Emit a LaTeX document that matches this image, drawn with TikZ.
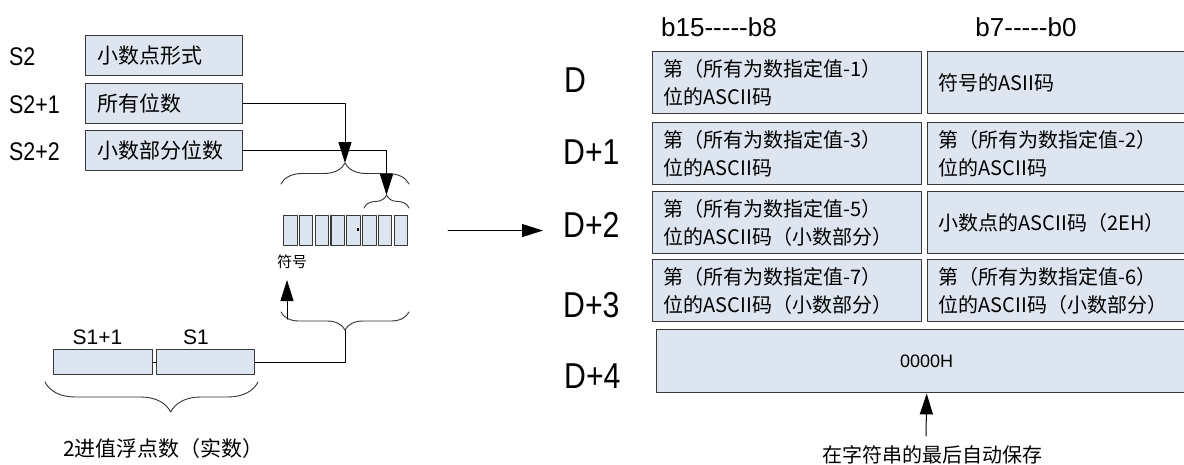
\documentclass[tikz,border=0pt]{standalone}
\usepackage{fontspec}
\setmainfont{Liberation Sans}
\newfontfamily\cjk{Noto Sans CJK SC}
\newfontfamily\narrowsf[FakeStretch=0.84]{Liberation Sans}
\usetikzlibrary{arrows.meta,decorations.pathreplacing}
\definecolor{cellfill}{RGB}{221,229,241}
\definecolor{cellline}{RGB}{56,56,56}

\begin{document}
\begin{tikzpicture}[x=1pt,y=-1pt,line join=round,line cap=round,
	>={Triangle[length=21pt,width=13pt]},
	cell/.style={draw=cellline,fill=cellfill,line width=1.4pt,inner sep=0pt,anchor=north west},
	srcbox/.style={cell,minimum width=157pt,minimum height=40pt,text width=133pt,align=left,font=\cjk\fontsize{21}{25}\selectfont},
	membox/.style={cell,minimum width=269pt,minimum height=62pt,text width=247pt,align=left,font=\cjk\fontsize{20}{27.5}\selectfont},
	bitbox/.style={cell,line width=1.1pt,minimum width=13.5pt,minimum height=30pt},
	wordbox/.style={cell,minimum height=25pt},
	reglbl/.style={inner sep=0pt,anchor=west,font=\narrowsf\fontsize{25.5}{25.5}\selectfont},
	rowlbl/.style={inner sep=0pt,anchor=west,font=\narrowsf\fontsize{36}{36}\selectfont},
	bitlbl/.style={inner sep=0pt,font=\fontsize{26}{26}\selectfont},
	note/.style={inner sep=0pt,font=\cjk\fontsize{20}{20}\selectfont},
	brace/.style={decorate,line width=0.9pt,draw=black!80},
	link/.style={line width=1pt}]
	\useasboundingbox (0,0) rectangle (1184,464);
	\def\bitstep{15.8} % Abstand der Bitzellen
	\def\dashes{{-}{-}{-}{-}{-}}
	% S2 ... S2+2
	\node[reglbl] (s2) at (9,57) {S2};
	\node[reglbl] (s2a) at (9,105) {S2+1};
	\node[reglbl] (s2b) at (9,152) {S2+2};
	\node[srcbox] (fmt) at (85,35) {小数点形式};
	\node[srcbox] (alld) at (85,83) {所有位数};
	\node[srcbox] (fracd) at (85,130) {小数部分位数};
	% Zeichenkette
	\foreach \i in {0,...,7}
		\node[bitbox] (bit\i) at ({283+\bitstep*\i},215) {};
	\fill ([xshift=3pt]bit4.center) rectangle +(2.6pt,2.6pt);
	\draw[brace,decoration={brace,amplitude=21pt}] (281,184) -- (409,184);
	\draw[brace,decoration={brace,amplitude=13pt}] (364,208) -- (409,208);
	\coordinate (allt) at (345,163);
	\coordinate (fract) at (386.5,195);
	\draw[link,->] (alld.east) -| (allt);
	\draw[link,->] (fracd.east) -| (fract);
	\node[inner sep=0pt,font=\cjk\fontsize{15}{15}\selectfont] (sign) at (292,262) {符号};
	\draw[brace,decoration={brace,mirror,amplitude=18pt}] (281,312) -- (409,312);
	\coordinate (signt) at (345,330);
	\coordinate (signb) at (287,319);
	\coordinate (signtip) at (287,280);
	\draw[link,->] (signb) -- (signtip);
	% S1+1, S1
	\node[wordbox,minimum width=99pt] (s1h) at (53,349) {};
	\node[wordbox,minimum width=98pt] (s1l) at (156,349) {};
	\draw[line width=0.8pt] (s1h.east) -- (s1l.west);
	\draw[link] (signt) |- (s1l.east);
	\node[inner sep=0pt,font=\fontsize{21}{21}\selectfont] (s1hl) at (97.5,337) {S1+1};
	\node[inner sep=0pt,font=\fontsize{21}{21}\selectfont] (s1ll) at (196,337) {S1};
	\draw[brace,decoration={brace,mirror,amplitude=30pt,aspect=0.59}] (45,382) -- (258,382);
	\node[note,anchor=west,font=\cjk\fontsize{21}{21}\selectfont] (real) at (63,449) {2进值浮点数（实数）};
	% D ... D+4
	\node[bitlbl] (hib) at (719,27) {b15\dashes b8};
	\node[bitlbl] (lob) at (1026,27) {b7\dashes b0};
	\node[rowlbl] (d0) at (564,80) {D};
	\node[rowlbl] (d1) at (563,152) {D+1};
	\node[rowlbl] (d2) at (563,225) {D+2};
	\node[rowlbl] (d3) at (563,305) {D+3};
	\node[rowlbl] (d4) at (564,376) {D+4};
	\draw[link,->] ([xshift=40pt]bit7.east) -- ([xshift=-20pt]d2.west |- bit7.east);
	\node[membox] (m0h) at (652,51) {第（所有为数指定值-1）\\位的ASCII码};
	\node[membox] (m0l) at (927,51) {符号的ASII码};
	\node[membox] (m1h) at (652,122) {第（所有为数指定值-3）\\位的ASCII码};
	\node[membox] (m1l) at (927,122) {第（所有为数指定值-2）\\位的ASCII码};
	\node[membox] (m2h) at (652,191) {第（所有为数指定值-5）\\位的ASCII码（小数部分）};
	\node[membox] (m2l) at (927,191) {小数点的ASCII码（2EH）};
	\node[membox] (m3h) at (652,259) {第（所有为数指定值-7）\\位的ASCII码（小数部分）};
	\node[membox] (m3l) at (927,259) {第（所有为数指定值-6）\\位的ASCII码（小数部分）};
	\node[cell,minimum width=540pt,minimum height=63pt,font=\fontsize{18}{18}\selectfont] (m4) at (656,329) {0000H};
	\node[note] (endnote) at (932,455) {在字符串的最后自动保存};
	\coordinate (endtail) at (926,436);
	\draw[link,->] (endtail) -- (m4.south);
\end{tikzpicture}
\end{document}
